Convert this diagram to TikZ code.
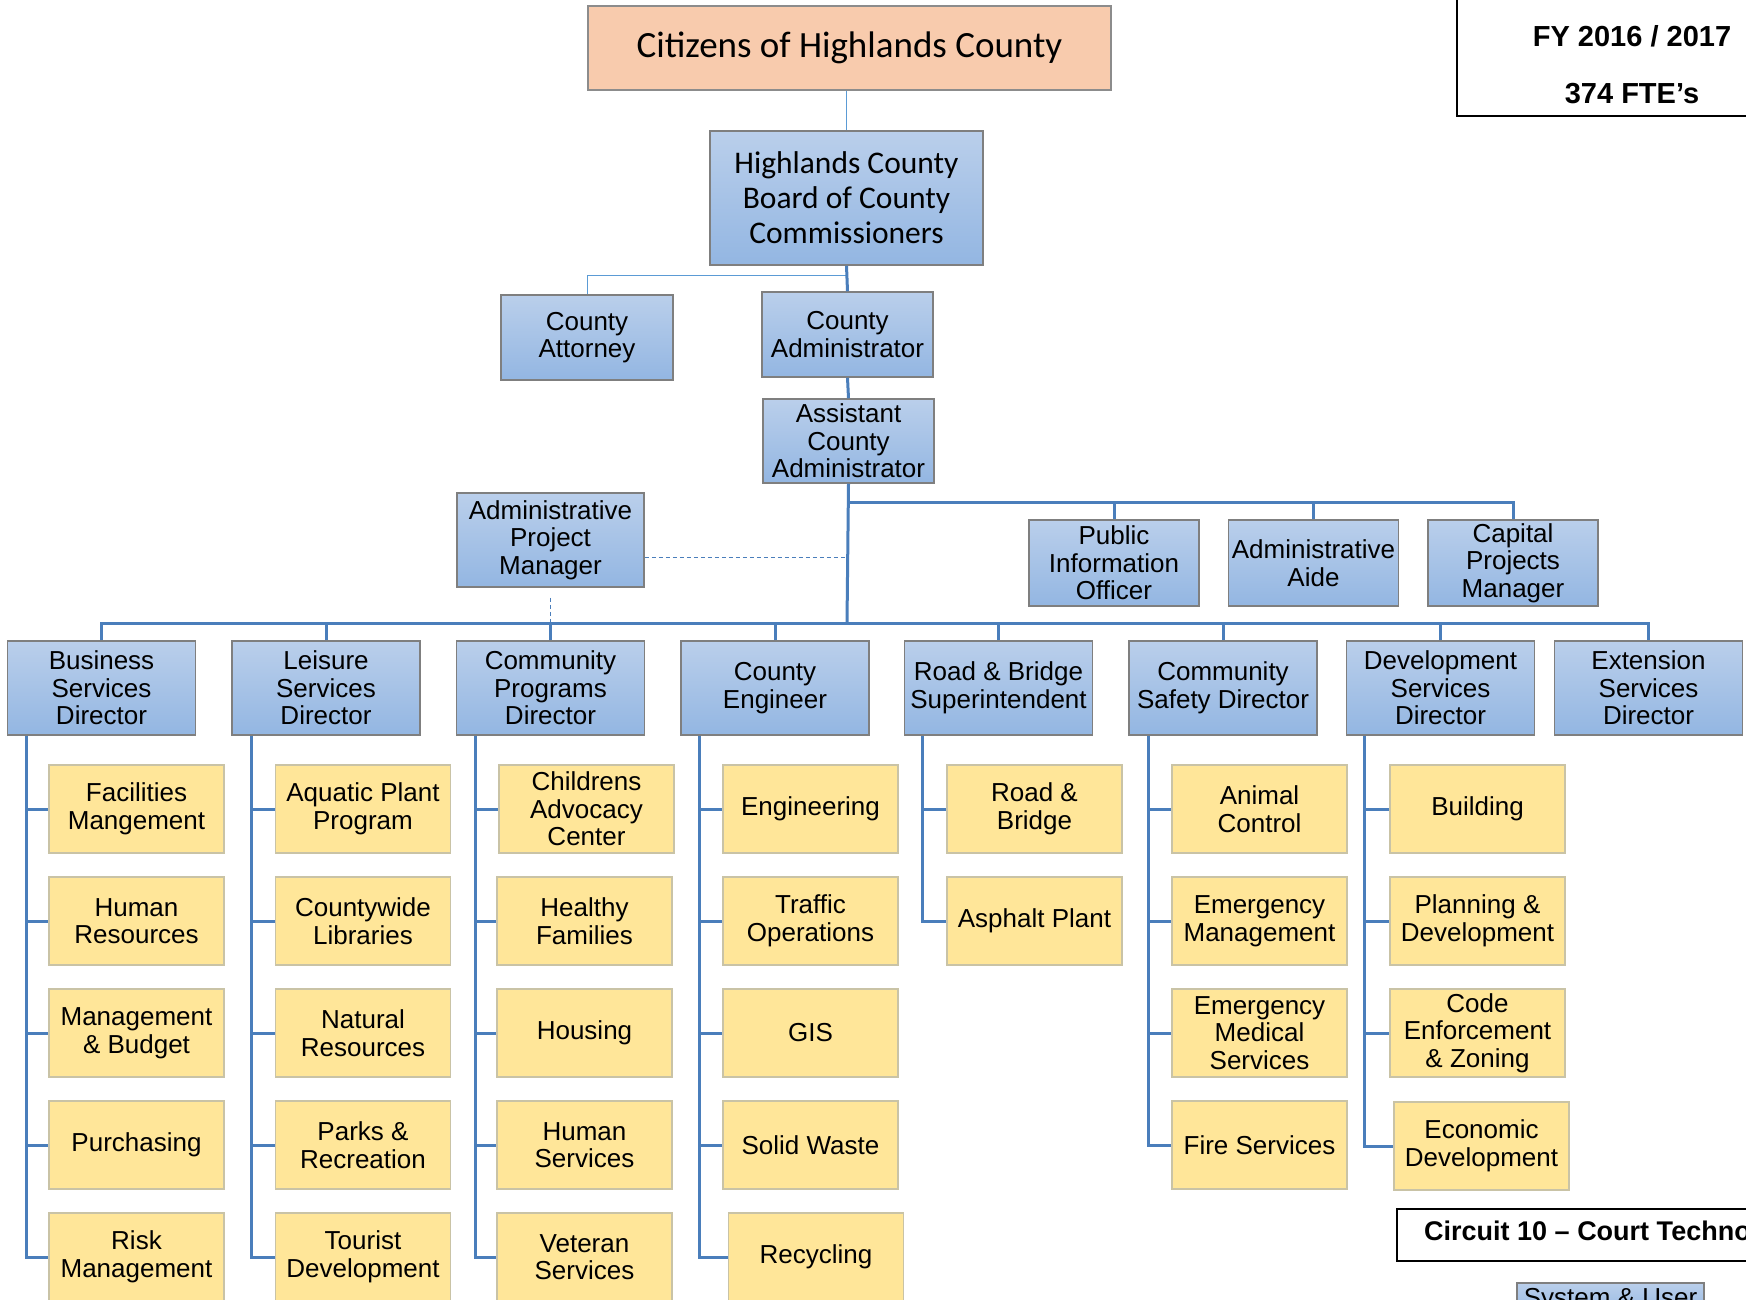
\documentclass[tikz,border=0pt]{standalone}
\usepackage{fontspec}
\setmainfont{Liberation Sans}
\newfontfamily\calibri{Carlito}
\definecolor{peach}{HTML}{F8CBAD}
\definecolor{peachbd}{HTML}{8C8C8C}
\definecolor{bluetop}{HTML}{BACFEB}
\definecolor{bluebot}{HTML}{93B6E2}
\definecolor{bluebd}{HTML}{7F7F7F}
\definecolor{yellowfill}{HTML}{FFE699}
\definecolor{yellowbd}{HTML}{C9C3A6}
\definecolor{connblue}{HTML}{4A7EBB}
\definecolor{lightblue}{HTML}{5B9BD5}
\newcommand\fs{\fontsize{26}{27.5}\selectfont}
\tikzset{
  conn/.style={draw=connblue, line width=3pt},
  thinc/.style={draw=lightblue, line width=1pt},
  dashc/.style={draw=connblue, line width=1pt, dash pattern=on 4pt off 3pt},
  bbox/.style={draw=bluebd, line width=1.5pt, top color=bluetop, bottom color=bluebot, align=center, inner sep=0pt, font=\fs},
  dirbox/.style={bbox, minimum width=188, minimum height=94},
  smallbox/.style={bbox, minimum width=171, minimum height=85},
  ybox/.style={draw=yellowbd, line width=1.5pt, fill=yellowfill, align=center, inner sep=0pt, minimum width=175, minimum height=88, font=\fs},
  framebox/.style={draw=black, line width=1.5pt, fill=white},
}
\begin{document}
\begin{tikzpicture}[x=1pt,y=-1pt]
\useasboundingbox (0,0) rectangle (1746,1300);
\clip (0,0) rectangle (1746,1300);
\fill[white] (0,0) rectangle (1746,1300);

% top
\node[draw=peachbd, line width=1.5pt, fill=peach, minimum width=523, minimum height=84, inner sep=0pt,
      font=\calibri\fontsize{37}{40}\selectfont] (cit) at (849.5,48) {Citizens of Highlands County};
\node[bbox, minimum width=273, minimum height=134, font=\calibri\fontsize{31.5}{35}\selectfont] (bocc) at (846.5,198)
  {Highlands County\\Board of County\\Commissioners};
\node[smallbox, minimum width=172] (att) at (587,337.5) {County\\Attorney};
\node[smallbox] (ca) at (847.5,334.5) {County\\Administrator};
\node[smallbox, minimum height=84] (aca) at (848.5,441) {Assistant\\County\\Administrator};
\node[dirbox, minimum width=187] (apm) at (550.5,540) {Administrative\\Project\\Manager};
\node[smallbox, minimum width=170, minimum height=86] (pio) at (1114,563) {Public\\Information\\Officer};
\node[smallbox, minimum width=170, minimum height=86] (aa) at (1313.5,563) {Administrative\\Aide};
\node[smallbox, minimum width=170, minimum height=86] (cpm) at (1513,563) {Capital\\Projects\\Manager};

% directors
\node[dirbox] (bsd) at (101.5,688) {Business\\Services\\Director};
\node[dirbox] (lsd) at (326,688) {Leisure\\Services\\Director};
\node[dirbox] (cpd) at (550.5,688) {Community\\Programs\\Director};
\node[dirbox] (ced) at (775,688) {County\\Engineer};
\node[dirbox] (rbd) at (998.5,688) {Road \& Bridge\\Superintendent};
\node[dirbox] (csd) at (1223,688) {Community\\Safety Director};
\node[dirbox] (dsd) at (1440.5,688) {Development\\Services\\Director};
\node[dirbox] (esd) at (1648.5,688) {Extension\\Services\\Director};

% connectors top
\coordinate (atj) at (847,275);
\coordinate (brj) at (847,502);
\coordinate (bus) at (847,623);
\coordinate (dj) at (847,557);
\draw[thinc] (bocc.north |- cit.south) -- (bocc.north);
\draw[thinc] (atj) -| (att.north);
\draw[conn] (bocc.south) -- (ca.north);
\draw[conn] (ca.south) -- (aca.north);
\draw[conn] (aca.south) -- (bus);
\draw[conn] (brj) -| (cpm.north);
\draw[conn] (pio.north) -- (pio.north |- brj);
\draw[conn] (aa.north) -- (aa.north |- brj);
\draw[conn] (bsd.north) -- (bsd.north |- bus) -- (esd.north |- bus) -- (esd.north);
\foreach \n in {lsd,cpd,ced,rbd,csd,dsd}
  \draw[conn] (\n.north) -- (\n.north |- bus);
\draw[dashc] (apm.east |- dj) -- (dj);
\draw[dashc] ([yshift=-10pt]apm.south) -- (apm.south |- bus);

% column 1
\node[ybox] (b1) at (136.5,809) {Facilities\\Mangement};
\node[ybox] (b2) at (136.5,921) {Human\\Resources};
\node[ybox] (b3) at (136.5,1033) {Management\\\& Budget};
\node[ybox] (b4) at (136.5,1145) {Purchasing};
\node[ybox] (b5) at (136.5,1257) {Risk\\Management};
% column 2
\node[ybox] (l1) at (363,809) {Aquatic Plant\\Program};
\node[ybox] (l2) at (363,921) {Countywide\\Libraries};
\node[ybox] (l3) at (363,1033) {Natural\\Resources};
\node[ybox] (l4) at (363,1145) {Parks \&\\Recreation};
\node[ybox] (l5) at (363,1257) {Tourist\\Development};
% column 3
\node[ybox] (p1) at (586.5,809) {Childrens\\Advocacy\\Center};
\node[ybox] (p2) at (584.5,921) {Healthy\\Families};
\node[ybox] (p3) at (584.5,1033) {Housing};
\node[ybox] (p4) at (584.5,1145) {Human\\Services};
\node[ybox] (p5) at (584.5,1257) {Veteran\\Services};
% column 4
\node[ybox] (e1) at (810.5,809) {Engineering};
\node[ybox] (e2) at (810.5,921) {Traffic\\Operations};
\node[ybox] (e3) at (810.5,1033) {GIS};
\node[ybox] (e4) at (810.5,1145) {Solid Waste};
\node[ybox] (e5) at (816,1257) {Recycling};
% column 5
\node[ybox] (r1) at (1034.5,809) {Road \&\\Bridge};
\node[ybox] (r2) at (1034.5,921) {Asphalt Plant};
% column 6
\node[ybox] (s1) at (1259.5,809) {Animal\\Control};
\node[ybox] (s2) at (1259.5,921) {Emergency\\Management};
\node[ybox] (s3) at (1259.5,1033) {Emergency\\Medical\\Services};
\node[ybox] (s4) at (1259.5,1145) {Fire Services};
% column 7
\node[ybox] (d1) at (1477.5,809) {Building};
\node[ybox] (d2) at (1477.5,921) {Planning \&\\Development};
\node[ybox] (d3) at (1477.5,1033) {Code\\Enforcement\\\& Zoning};
\node[ybox] (d4) at (1481.5,1146) {Economic\\Development};

% child connectors
\foreach \i in {1,...,5} {
  \draw[conn] ([xshift=20pt]bsd.south west) |- (b\i.west);
  \draw[conn] ([xshift=20pt]lsd.south west) |- (l\i.west);
  \draw[conn] ([xshift=20pt]cpd.south west) |- (p\i.west);
  \draw[conn] ([xshift=19pt]ced.south west) |- (e\i.west);
}
\foreach \i in {1,2}
  \draw[conn] ([xshift=19pt]rbd.south west) |- (r\i.west);
\foreach \i in {1,...,4} {
  \draw[conn] ([xshift=20pt]csd.south west) |- (s\i.west);
  \draw[conn] ([xshift=19pt]dsd.south west) |- (d\i.west);
}

% side boxes
\node[framebox, minimum width=310, minimum height=130, anchor=south west] (fy) at (1456,117) {};
\node[font=\bfseries\fontsize{29}{30}\selectfont] (fyt) at (1632,36) {FY 2016 / 2017};
\node[font=\bfseries\fontsize{29}{30}\selectfont] (fte) at (1632,94) {374 FTE’s};
\node[framebox, minimum width=370, minimum height=52, anchor=north west, inner sep=0pt] (circ) at (1396,1208) {};
\node[font=\bfseries\fontsize{27}{28}\selectfont, anchor=west, inner sep=0pt] (circt) at (1424,1234) {Circuit 10 – Court Technology};
\node[bbox, minimum width=187, anchor=north, text height=19, text depth=6, inner ysep=5] (su) at (1610.5,1282) {System \& User};
\end{tikzpicture}
\end{document}
